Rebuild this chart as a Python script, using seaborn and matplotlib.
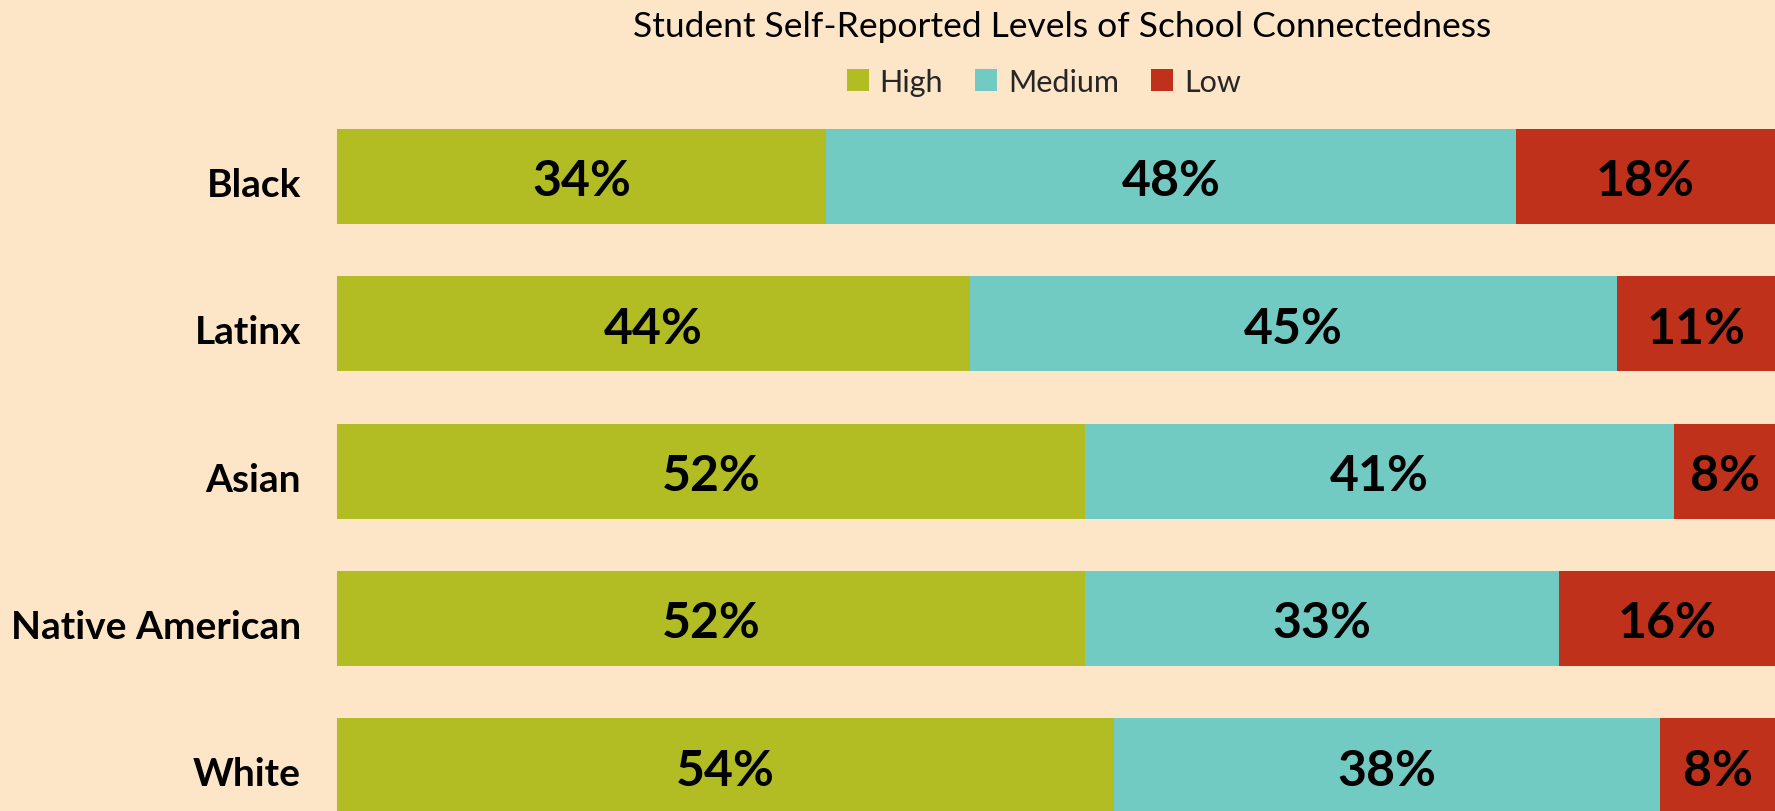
import numpy as np
import pandas as pd
import matplotlib
matplotlib.use("Agg")
import matplotlib.pyplot as plt
import matplotlib.transforms as mtransforms
from matplotlib.patches import Patch
import seaborn as sns

groups = ["Black", "Latinx", "Asian", "Native American", "White"]
high = [34, 44, 52, 52, 54]
medium = [48, 45, 41, 33, 38]
low = [18, 11, 8, 16, 8]
levels = ["High", "Medium", "Low"]
colors = ["#b1bd22", "#72cbc3", "#bf311b"]
bg = "#fde6c7"

df = pd.DataFrame({"group": groups, "High": high, "Medium": medium, "Low": low})
df["cum_high"] = df["High"]
df["cum_med"] = df["High"] + df["Medium"]
df["cum_low"] = df["cum_med"] + df["Low"]

sns.set_theme(style="white")
plt.rcParams["font.family"] = ["Lato", "DejaVu Sans"]

fig = plt.figure(figsize=(17.75, 8.12), dpi=100, facecolor=bg)
ax = fig.add_axes([337 / 1775, 0, 1 - 337 / 1775, 707 / 812])
ax.set_facecolor(bg)

# stacked by overlaying cumulative totals
for col, c in zip(["cum_low", "cum_med", "cum_high"], colors[::-1]):
    sns.barplot(data=df, x=col, y="group", order=groups, color=c,
                width=0.645, saturation=1, ax=ax, linewidth=0)

ax.set_xlim(0, 100)
ax.set_ylim(4.308, -0.492)
ax.set_xlabel("")
ax.set_ylabel("")
ax.set_xticks([])
sns.despine(ax=ax, left=True, bottom=True)
ax.tick_params(axis="y", length=0, pad=26)
ax.set_yticks(range(len(groups)))
ax.set_yticklabels(groups, fontsize=28, fontweight="bold", color="black")
shift = mtransforms.ScaledTranslation(0, -0.05, fig.dpi_scale_trans)
for lbl in ax.get_yticklabels():
    lbl.set_transform(lbl.get_transform() + shift)

# value labels in the middle of the visible segment
for i, row in df.iterrows():
    starts = [0, row["cum_high"], row["cum_med"]]
    ends = [row["cum_high"], row["cum_med"], row["cum_low"]]
    vals = [row["High"], row["Medium"], row["Low"]]
    for s, e, v in zip(starts, ends, vals):
        e = min(e, 100)
        ax.text((s + e) / 2, i + 0.03, f"{v}%", ha="center", va="center",
                fontsize=36, fontweight="bold", color="black")

fig.text(1062 / 1775, 1 - 27 / 812, "Student Self-Reported Levels of School Connectedness",
         ha="center", va="center", fontsize=25.5, color="black")

handles = [Patch(facecolor=c, edgecolor="none") for c in colors]
fig.legend(handles, levels, loc="center", bbox_to_anchor=(1044 / 1775, 1 - 83 / 812),
           ncol=3, frameon=False, fontsize=22, handlelength=0.72, handleheight=0.72,
           handletextpad=0.36, columnspacing=1.05)

fig.savefig("out.png", dpi=100, facecolor=bg)
